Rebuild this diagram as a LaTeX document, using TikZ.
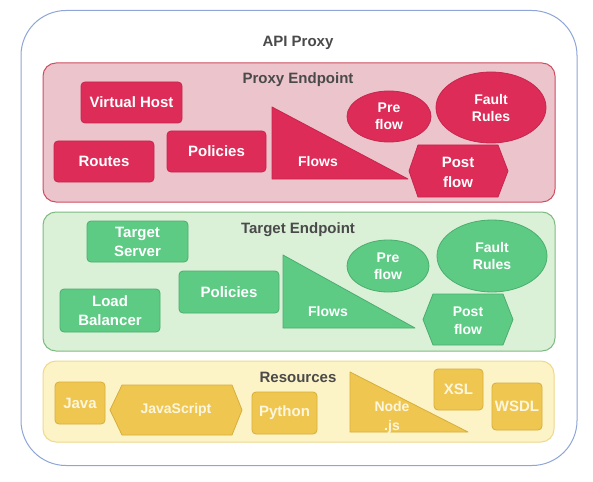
\documentclass[tikz,border=0pt]{standalone}
\usepackage{fontspec}
\setmainfont{Liberation Sans}
\usetikzlibrary{shapes.geometric}
\definecolor{redItem}{HTML}{DC2C57}
\definecolor{redItemB}{HTML}{C8264D}
\definecolor{redPanel}{HTML}{EBC4CC}
\definecolor{redPanelB}{HTML}{CF4E62}
\definecolor{greenItem}{HTML}{5ECB85}
\definecolor{greenItemB}{HTML}{4AAE6D}
\definecolor{greenPanel}{HTML}{DAF0D7}
\definecolor{greenPanelB}{HTML}{7DBB80}
\definecolor{yelItem}{HTML}{EFC750}
\definecolor{yelItemB}{HTML}{D6AE3A}
\definecolor{yelPanel}{HTML}{FCF3C6}
\definecolor{yelPanelB}{HTML}{F0D98A}
\definecolor{outerB}{HTML}{8EA5D8}
\definecolor{headgray}{HTML}{4A4A4A}
\definecolor{yelText}{HTML}{FDF6DE}
\begin{document}
\begin{tikzpicture}[x=1pt,y=-1pt,
  txt/.style={font=\bfseries\fontsize{15}{18}\selectfont, align=center, inner sep=0pt},
  heading/.style={txt, text=headgray},
  panel/.style={draw, line width=1pt, rounded corners=13pt, inner sep=0pt},
  box/.style={txt, draw, line width=0.8pt, rounded corners=4pt, text=white},
  redbox/.style={box, fill=redItem, draw=redItemB},
  greenbox/.style={box, fill=greenItem, draw=greenItemB},
  yelbox/.style={box, fill=yelItem, draw=yelItemB, text=yelText},
  ell/.style={txt, ellipse, draw, line width=0.8pt, text=white, font=\bfseries\fontsize{14}{17}\selectfont},
  redshape/.style={fill=redItem, draw=redItemB, line width=0.8pt, line join=round},
  greenshape/.style={fill=greenItem, draw=greenItemB, line width=0.8pt, line join=round},
  yelshape/.style={fill=yelItem, draw=yelItemB, line width=0.8pt, line join=round},
  lbl/.style={txt, text=white, font=\bfseries\fontsize{14}{18}\selectfont}]
\useasboundingbox (0,0) rectangle (593,481);

% outer container
\node[draw=outerB, line width=1pt, rounded corners=45pt, fill=white, minimum width=556, minimum height=455] (apiproxy) at (299,238) {};
\node[heading] (apititle) at (298,43) {API Proxy};

% ---------- Proxy Endpoint ----------
\node[panel, fill=redPanel, draw=redPanelB, minimum width=512, minimum height=139] (proxyep) at (299,132.5) {};
\node[heading] (proxytitle) at (298,80) {Proxy Endpoint};
\node[redbox, minimum width=101, minimum height=41] (vhost) at (131.5,102.5) {Virtual Host};
\node[redbox, minimum width=100, minimum height=41] (routes) at (104,161.5) {Routes};
\node[redbox, minimum width=99, minimum height=41] (pol1) at (216.5,151.5) {Policies};
\draw[redshape] (272,107) -- (272,179) -- (408,179) -- cycle;
\node[lbl] (flows1) at (318,161) {Flows};
\node[ell, fill=redItem, draw=redItemB, minimum width=84, minimum height=51] (pre1) at (389,116.5) {Pre\\flow};
\node[ell, fill=redItem, draw=redItemB, minimum width=110, minimum height=71] (fault1) at (491,107.5) {Fault\\Rules};
\draw[redshape] (409,171) -- (418,145) -- (498,145) -- (508,171) -- (498,197) -- (418,197) -- cycle;
\node[lbl, font=\bfseries\fontsize{15}{20}\selectfont] (post1) at (458,172) {Post\\flow};

% ---------- Target Endpoint ----------
\node[panel, fill=greenPanel, draw=greenPanelB, minimum width=512, minimum height=139] (targetep) at (299,281.5) {};
\node[heading] (targettitle) at (298,230) {Target Endpoint};
\node[greenbox, minimum width=101, minimum height=41, font=\bfseries\fontsize{15}{19}\selectfont] (tserver) at (137.5,241.5) {Target\\Server};
\node[greenbox, minimum width=100, minimum height=43, font=\bfseries\fontsize{15}{19}\selectfont] (lb) at (110,310.5) {Load\\Balancer};
\node[greenbox, minimum width=100, minimum height=42] (pol2) at (229,292) {Policies};
\draw[greenshape] (283,255) -- (283,328) -- (415,328) -- cycle;
\node[lbl] (flows2) at (328,311) {Flows};
\node[ell, fill=greenItem, draw=greenItemB, minimum width=82, minimum height=52] (pre2) at (388,266) {Pre\\flow};
\node[ell, fill=greenItem, draw=greenItemB, minimum width=110, minimum height=72] (fault2) at (492,256) {Fault\\Rules};
\draw[greenshape] (423,319.5) -- (433,294) -- (503,294) -- (513,319.5) -- (503,345) -- (433,345) -- cycle;
\node[lbl] (post2) at (468,320.5) {Post\\flow};

% ---------- Resources ----------
\node[panel, fill=yelPanel, draw=yelPanelB, minimum width=511, minimum height=81] (resources) at (298.5,401.5) {};
\node[heading] (restitle) at (298,377) {Resources};
\node[yelbox, minimum width=50, minimum height=42] (java) at (80,403) {Java};
\draw[yelshape] (110,410) -- (122,385) -- (232,385) -- (242,410) -- (232,435) -- (122,435) -- cycle;
\node[txt, text=yelText, font=\bfseries\fontsize{14}{17}\selectfont] (js) at (176,410) {JavaScript};
\node[yelbox, minimum width=65, minimum height=42] (python) at (284.5,413) {Python};
\draw[yelshape] (350,372) -- (350,432) -- (468,432) -- cycle;
\node[lbl, text=yelText, font=\bfseries\fontsize{14}{19}\selectfont] (nodejs) at (392,417) {Node\\.js};
\node[yelbox, minimum width=49, minimum height=41] (xsl) at (458.5,389.5) {XSL};
\node[yelbox, minimum width=50, minimum height=47] (wsdl) at (517,406.5) {WSDL};
\end{tikzpicture}
\end{document}
